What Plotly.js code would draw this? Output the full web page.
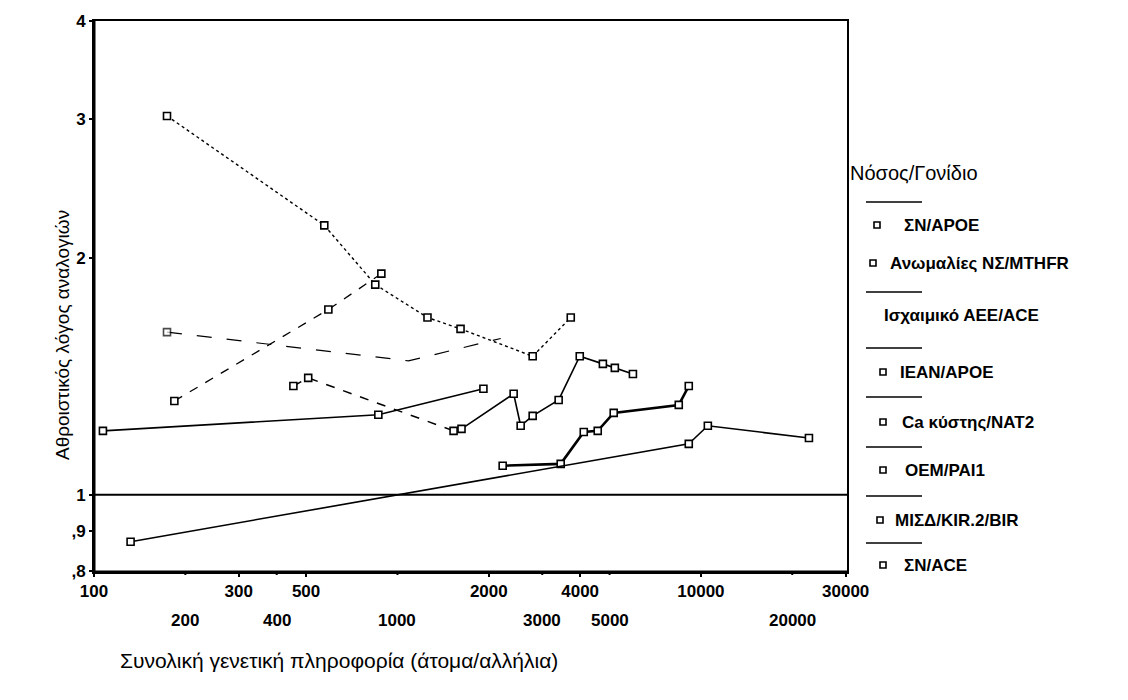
<!DOCTYPE html>
<html>
<head>
<meta charset="utf-8">
<script src="https://cdn.plot.ly/plotly-3.0.1.min.js"></script>
<style>html,body{margin:0;padding:0;background:#fff;}#chart{width:1128px;height:700px;}</style>
</head>
<body>
<div id="chart"></div>
<script>
// ---- data ----
const seriesNames = ["ΣΝ/APOE", "Ανωμαλίες ΝΣ/MTHFR", "Ισχαιμικό ΑΕΕ/ACE", "ΙΕΑΝ/APOE",
                     "Ca κύστης/NAT2", "ΟΕΜ/PAI1", "ΜΙΣΔ/KIR.2/BIR", "ΣΝ/ACE"];
const xA = [174, 574, 845, 1256, 1614, 2790, 3725];
const yA = [3.03, 2.20, 1.85, 1.68, 1.625, 1.50, 1.68];
const xB = [184, 592, 885];
const yB = [1.316, 1.72, 1.91];
const xC = [174, 1087, 2190];
const yC = [1.61, 1.48, 1.58];
const xD = [107, 865, 1920];
const yD = [1.206, 1.264, 1.364];
const xE = [454, 508, 1531];
const yE = [1.375, 1.408, 1.206];
const xF = [1626, 2415, 2547, 2790, 3398, 3988, 4753, 5204, 5970];
const yF = [1.213, 1.344, 1.224, 1.26, 1.32, 1.50, 1.467, 1.45, 1.424];
const xG = [2222, 3451, 4111, 4571, 5160, 8453, 9120];
const yG = [1.089, 1.095, 1.202, 1.206, 1.271, 1.301, 1.375];
const xH = [132, 9120, 10540, 22700];
const yH = [0.872, 1.161, 1.224, 1.181];

const xTickRow1 = [100, 300, 500, 2000, 4000, 10000, 30000];
const xTickRow2 = [200, 400, 1000, 3000, 5000, 20000];
const yTickVals = [0.8, 0.9, 1, 2, 3, 4];
const yTickText = [",8", ",9", "1", "2", "3", "4"];
const refLineY = 1;

const xTitle = "Συνολική γενετική πληροφορία (άτομα/αλλήλια)";
const yTitle = "Αθροιστικός λόγος αναλογιών";
const legendTitle = "Νόσος/Γονίδιο";

// ---- styling ----
const FONT = "Liberation Sans, Arial, sans-serif";
const mk = (size) => ({symbol: "square", size: size, color: "#fff", line: {color: "#000", width: 1.6}});
const styles = [
  {dash: "dot", width: 1.4, marker: mk(7)},
  {dash: "dash", width: 1.3, marker: mk(7)},
  {dash: "longdash", width: 1.2, marker: mk([7, 0, 0])},
  {dash: "solid", width: 1.6, marker: mk(7)},
  {dash: "dash", width: 1.5, marker: mk(7)},
  {dash: "solid", width: 1.6, marker: mk(7)},
  {dash: "solid", width: 2.6, marker: mk(7)},
  {dash: "solid", width: 1.6, marker: mk(7)}
];
const xs = [xA, xB, xC, xD, xE, xF, xG, xH];
const ys = [yA, yB, yC, yD, yE, yF, yG, yH];

const traces = xs.map((x, i) => ({
  type: "scatter", mode: "lines+markers", x: x, y: ys[i], name: seriesNames[i],
  line: {color: "#000", width: styles[i].width, dash: styles[i].dash},
  marker: styles[i].marker, showlegend: false, cliponaxis: false
}));

// plot area in pixels
const L = 94, R = 847, T = 21, B = 572;
const px = (p) => (p - L) / (R - L);
const py = (p) => (B - p) / (B - T);

const tickFontX = {family: FONT, size: 17, color: "#000", weight: "bold"};
const annotations = [];
const shapes = [];
// second row of x tick labels (staggered, as in the reference)
xTickRow2.forEach((v) => {
  annotations.push({xref: "x", yref: "paper", x: Math.log10(v), y: py(620), xanchor: "center", yanchor: "middle",
    text: "<b>" + String(v) + "</b>", showarrow: false, font: {family: FONT, size: 17, color: "#000"}});
  shapes.push({type: "line", xref: "x", yref: "paper", x0: v, x1: v, y0: 0, y1: py(B + 3),
    line: {color: "#000", width: 2}});
});
// x title
annotations.push({xref: "paper", yref: "paper", x: px(118), y: py(660), xanchor: "left", yanchor: "middle",
  text: xTitle, showarrow: false, font: {family: FONT, size: 21, color: "#000"}});
// y title
annotations.push({xref: "paper", yref: "paper", x: px(62), y: py(335), xanchor: "center", yanchor: "middle",
  text: yTitle, textangle: -90, showarrow: false, font: {family: FONT, size: 19, color: "#000"}});
// legend title
annotations.push({xref: "paper", yref: "paper", x: px(848), y: py(173), xanchor: "left", yanchor: "middle",
  text: legendTitle, showarrow: false, font: {family: FONT, size: 20, color: "#000"}});
// legend entries
const legLabelY = [225, 263, 315, 372, 422, 470, 520, 565];
const legTextX = [902, 888, 882, 898, 900, 903, 893, 902];
const legMarkX = [877, 873, null, 883, 883, 883, 880, 883];
const legSepY = [202, 292, 348, 397, 447, 496, 543];
legLabelY.forEach((yy, i) => {
  annotations.push({xref: "paper", yref: "paper", x: px(legTextX[i]), y: py(yy), xanchor: "left", yanchor: "middle",
    text: "<b>" + seriesNames[i] + "</b>", showarrow: false, font: {family: FONT, size: 17, color: "#000"}});
  if (legMarkX[i] !== null) {
    shapes.push({type: "rect", xref: "paper", yref: "paper", x0: px(legMarkX[i] - 3), x1: px(legMarkX[i] + 3),
      y0: py(yy - 3), y1: py(yy + 3), line: {color: "#000", width: 1.6}, fillcolor: "#fff"});
  }
});
legSepY.forEach((yy) => {
  shapes.push({type: "line", xref: "paper", yref: "paper", x0: px(866), x1: px(922), y0: py(yy), y1: py(yy),
    line: {color: "#000", width: 1.5}});
});
// reference line at 1
shapes.push({type: "line", xref: "paper", yref: "y", x0: 0, x1: 1, y0: refLineY, y1: refLineY,
  line: {color: "#000", width: 2}});
// heavier left and bottom axes
shapes.push({type: "line", xref: "paper", yref: "paper", x0: 0, x1: 0, y0: 0, y1: 1, line: {color: "#000", width: 3}});
shapes.push({type: "line", xref: "paper", yref: "paper", x0: 0, x1: 1, y0: 0, y1: 0, line: {color: "#000", width: 3}});

const layout = {
  width: 1128, height: 700,
  margin: {l: L, r: 1128 - R, t: T, b: 700 - B, pad: 0},
  paper_bgcolor: "#fff", plot_bgcolor: "#fff",
  showlegend: false,
  xaxis: {
    type: "log", range: [2, Math.log10(30300)],
    tickvals: xTickRow1, ticktext: xTickRow1.map(String),
    tickangle: 0,
    ticks: "outside", ticklen: 3, tickwidth: 2, tickcolor: "#000",
    showline: true, linecolor: "#000", linewidth: 2, mirror: true,
    showgrid: false, zeroline: false,
    tickfont: tickFontX
  },
  yaxis: {
    type: "log", range: [Math.log10(0.798), Math.log10(4)],
    tickvals: yTickVals, ticktext: yTickText,
    ticks: "outside", ticklen: 3, tickwidth: 2, tickcolor: "#000",
    showline: true, linecolor: "#000", linewidth: 2, mirror: true,
    showgrid: false, zeroline: false,
    tickfont: {family: FONT, size: 17, color: "#000", weight: "bold"}
  },
  annotations: annotations,
  shapes: shapes,
  font: {family: FONT, color: "#000"}
};

Plotly.newPlot("chart", traces, layout, {staticPlot: true, displayModeBar: false});
</script>
</body>
</html>
